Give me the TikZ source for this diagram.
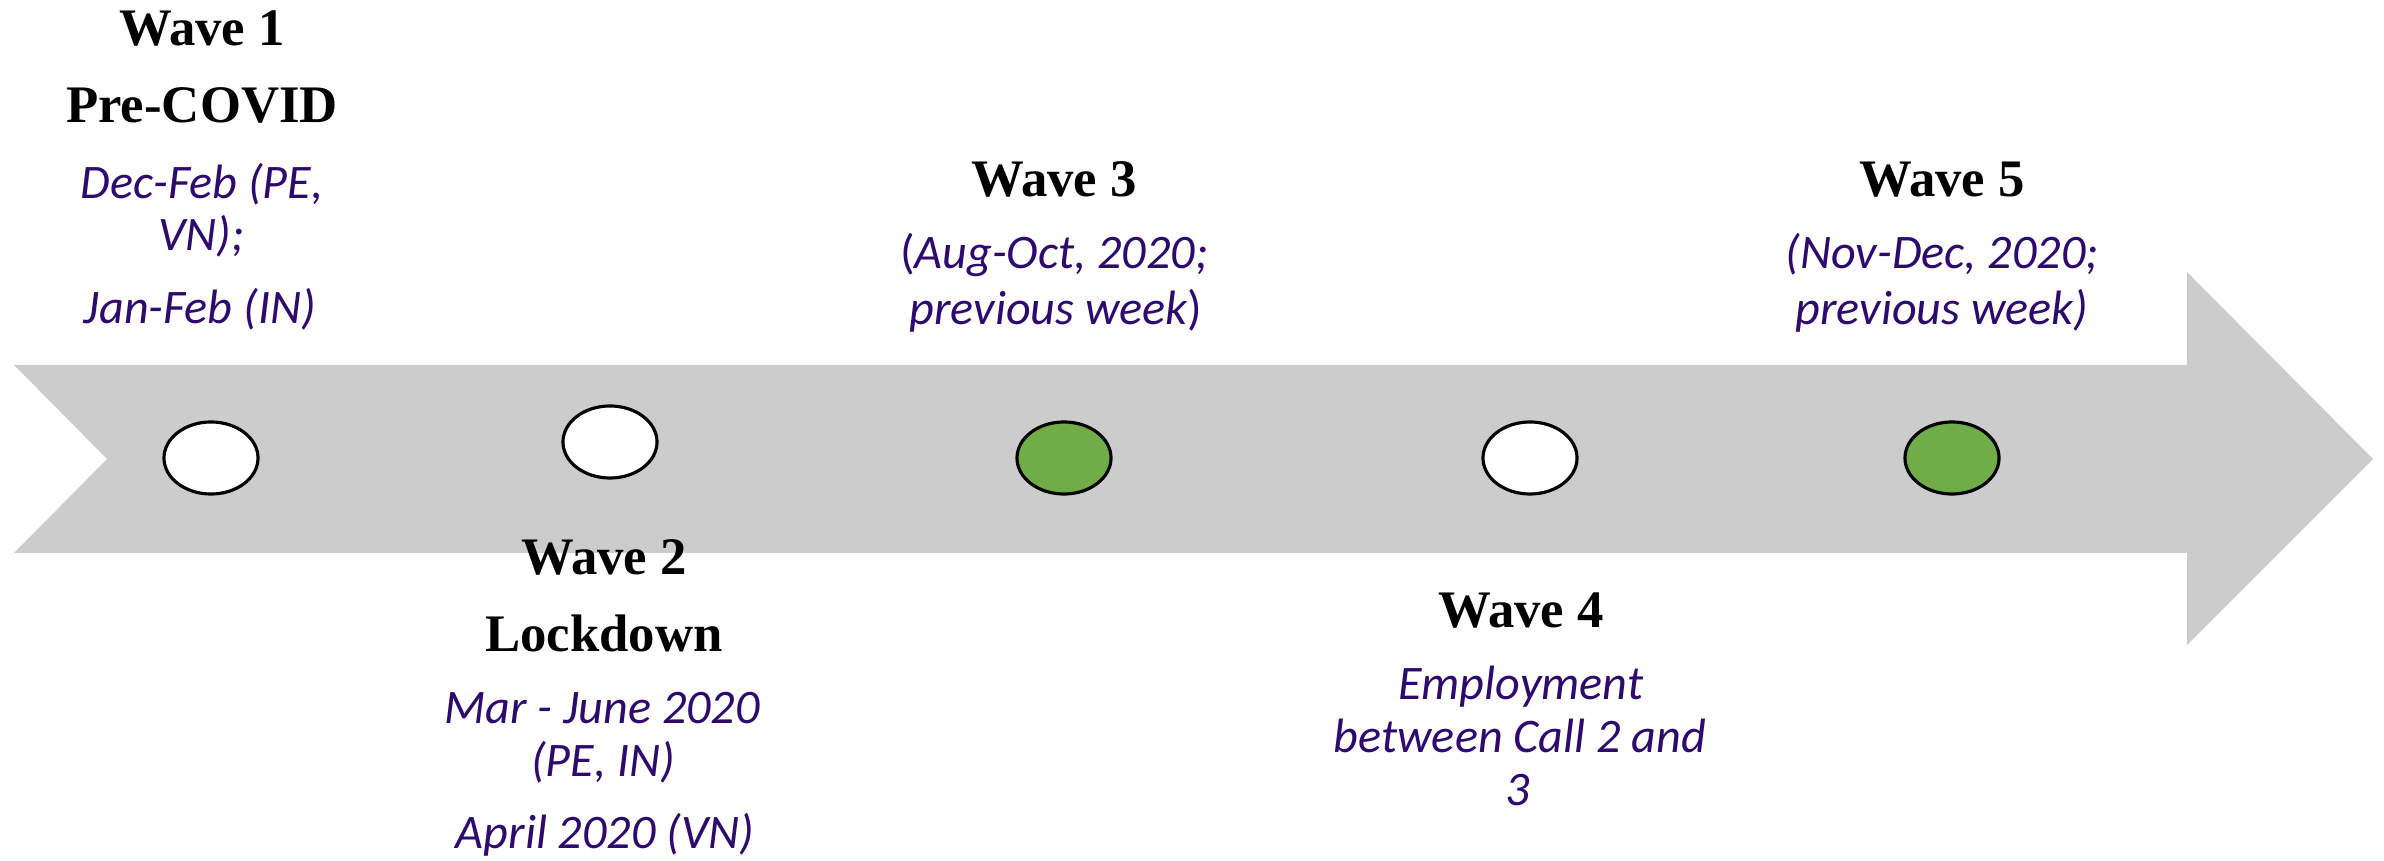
\documentclass[tikz,border=0pt]{standalone}
\usepackage{fontspec}
\setmainfont{Liberation Serif}
\newfontfamily\datefont{Carlito}
\usetikzlibrary{shapes.geometric}

\definecolor{bandgray}{HTML}{CCCCCC}
\definecolor{callgreen}{HTML}{70AD47}
\definecolor{datepurple}{RGB}{46,10,110}

\tikzset{
  wave/.style={font=\bfseries\fontsize{15}{18}\selectfont,anchor=base,inner sep=0pt},
  date/.style={font=\datefont\itshape\fontsize{13.7}{16}\selectfont,text=datepurple,anchor=base,inner sep=0pt},
  stop/.style={ellipse,draw=black,line width=0.9pt,minimum width=0.94cm,minimum height=0.72cm,inner sep=0pt}
}

\begin{document}
\begin{tikzpicture}[x=0.01cm,y=-0.01cm]
    \useasboundingbox (0,0) rectangle (2384,861);

    % the time line
    \fill[bandgray] (14,365) -- (2187,365) -- (2187,272) -- (2373,459) -- (2187,645)
        -- (2187,553) -- (14,553) -- (107,459) -- cycle;

    % one stop per call
    \foreach \num/\x/\y/\c in {1/211/458/white, 2/610/442/white, 3/1064/458/callgreen,
                               4/1530/458/white, 5/1952/458/callgreen}
        \node[stop,fill=\c] (S-\num) at (\x,\y) {};

    % wave titles
    \foreach \x/\y/\t [count=\i] in {202/46/Wave 1, 202/123/Pre-COVID, 604/575/Wave 2,
                                     604/652/Lockdown, 1054/197/Wave 3, 1521/627/Wave 4,
                                     1942/197/Wave 5}
        \node[wave] (T-\i) at (\x,\y) {\t};

    % field dates
    \foreach \x/\y/\t [count=\i] in {202/199/{Dec-Feb (PE,}, 201/251/{VN);}, 200/324/{Jan-Feb (IN)},
                                     602/723/{Mar - June 2020}, 603/777/{(PE, IN)}, 605/848/{April 2020 (VN)},
                                     1054/269/{{\upshape(}Aug-Oct, 2020;}, 1056/325/{previous week{\upshape)}},
                                     1521/699/{Employment}, 1520/752/{between Call 2 and}, 1518/805/{3},
                                     1942/269/{(Nov-Dec, 2020;}, 1942/325/{previous week)}}
        \node[date] (D-\i) at (\x,\y) {\t};
\end{tikzpicture}
\end{document}
